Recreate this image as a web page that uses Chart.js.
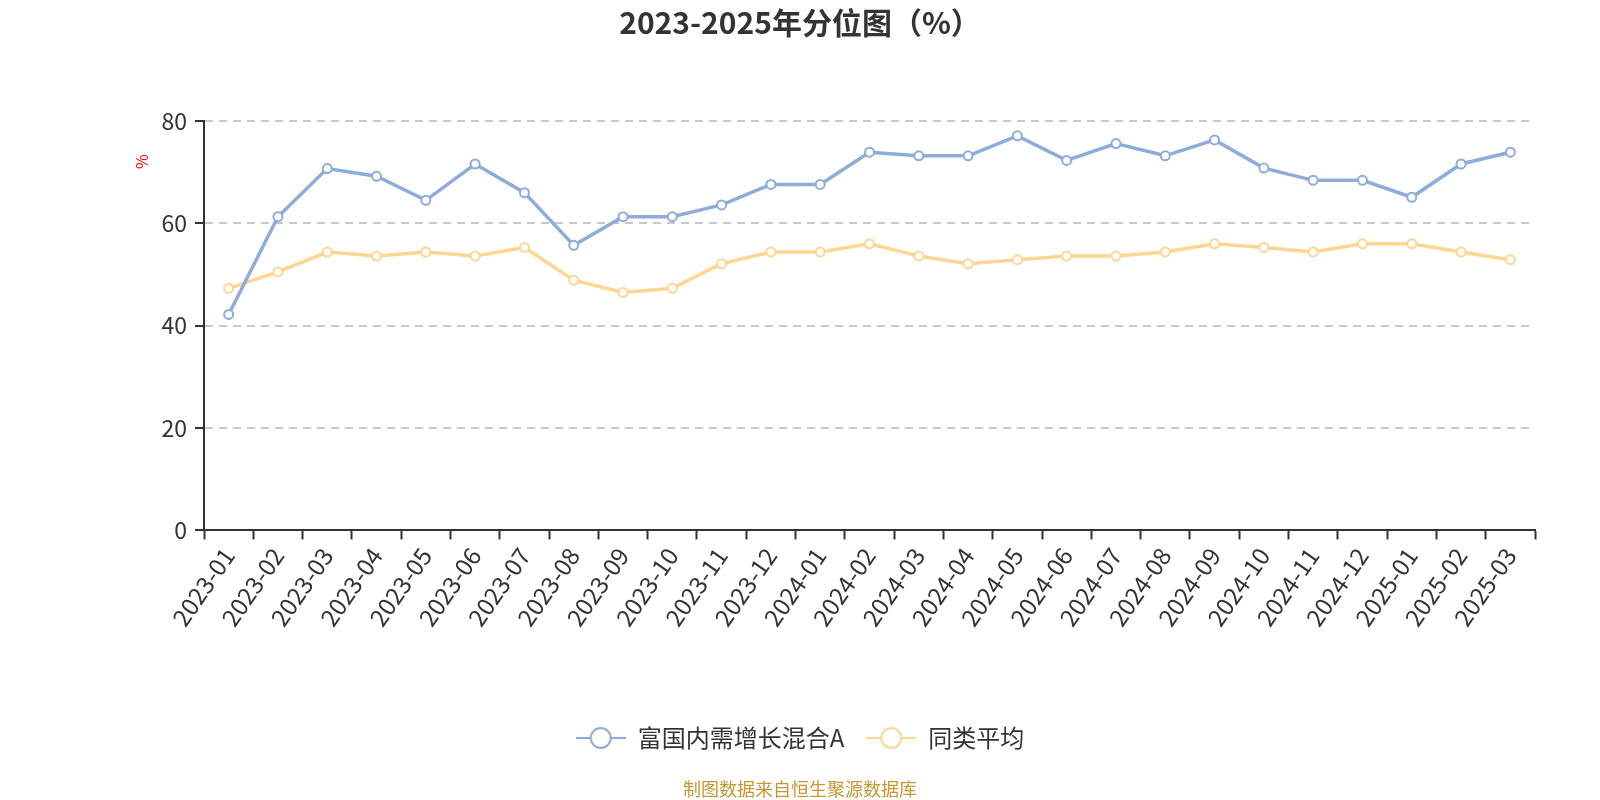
<!DOCTYPE html>
<html>
<head>
<meta charset="utf-8">
<script src="https://cdn.jsdelivr.net/npm/chart.js@4"></script>
<style>
html,body{margin:0;padding:0;background:#fff;}
#wrap{width:1600px;height:800px;position:relative;}
</style>
</head>
<body>
<div id="wrap"><canvas id="c" width="1600" height="800"></canvas></div>
<script>
const categories = ["2023-01","2023-02","2023-03","2023-04","2023-05","2023-06","2023-07","2023-08","2023-09","2023-10","2023-11","2023-12","2024-01","2024-02","2024-03","2024-04","2024-05","2024-06","2024-07","2024-08","2024-09","2024-10","2024-11","2024-12","2025-01","2025-02","2025-03"];
const fundValues = [42.2,61.3,70.7,69.2,64.5,71.6,66.0,55.7,61.3,61.3,63.6,67.6,67.6,73.9,73.2,73.2,77.1,72.3,75.6,73.2,76.3,70.8,68.4,68.4,65.1,71.6,73.9];
const avgValues = [47.3,50.5,54.4,53.6,54.4,53.6,55.3,48.9,46.5,47.3,52.1,54.4,54.4,56.0,53.6,52.1,52.9,53.6,53.6,54.4,56.0,55.3,54.4,56.0,56.0,54.4,52.9];
const yTicks = [0,20,40,60,80];
const seriesNames = ["富国内需增长混合A","同类平均"];
const titleText = "2023-2025年分位图（%）";
const footerText = "制图数据来自恒生聚源数据库";
const yUnit = "%";

const BLUE = "#8dabdb";
const ORANGE = "#ffd591";
const FONT = "'Noto Sans CJK SC', 'Noto Sans', sans-serif";

function legendIcon(color){
  const cv = document.createElement('canvas');
  cv.width = 50; cv.height = 24;
  const g = cv.getContext('2d');
  g.strokeStyle = color; g.lineWidth = 2;
  g.beginPath(); g.moveTo(0,12); g.lineTo(50,12); g.stroke();
  g.beginPath(); g.arc(25,12,10,0,Math.PI*2);
  g.fillStyle = "#fff"; g.fill(); g.stroke();
  return cv;
}

const extraText = {
  id: 'extraText',
  afterDraw(chart){
    const ctx = chart.ctx;
    ctx.save();
    ctx.fillStyle = "#c89632";
    ctx.font = "18px " + FONT;
    ctx.textAlign = "center"; ctx.textBaseline = "middle";
    ctx.fillText(footerText, 800, 789);
    ctx.translate(141.7, 161.7);
    ctx.rotate(-Math.PI/2);
    ctx.fillStyle = "#ff0000";
    ctx.font = "16px " + FONT;
    ctx.fillText(yUnit, 0, 0);
    ctx.restore();
  }
};

new Chart(document.getElementById('c'), {
  type: 'line',
  data: {
    labels: categories,
    datasets: [
      {label: seriesNames[0], data: fundValues, borderColor: BLUE, backgroundColor: BLUE,
       borderWidth: 3.5, pointRadius: 4.5, pointBorderWidth: 2, pointBackgroundColor: "#fff",
       pointBorderColor: BLUE, pointStyle: 'circle', tension: 0, fill: false},
      {label: seriesNames[1], data: avgValues, borderColor: ORANGE, backgroundColor: ORANGE,
       borderWidth: 3.5, pointRadius: 4.5, pointBorderWidth: 2, pointBackgroundColor: "#fff",
       pointBorderColor: ORANGE, pointStyle: 'circle', tension: 0, fill: false}
    ]
  },
  options: {
    responsive: false,
    animation: false,
    layout: {padding: {left: 65, right: 65, top: 0, bottom: 40}},
    plugins: {
      tooltip: {enabled: false},
      title: {display: true, text: titleText, color: "#333",
              font: {family: FONT, size: 30, weight: 'bold'},
              padding: {top: 5, bottom: 80}},
      legend: {
        position: 'bottom',
        labels: {
          usePointStyle: true, pointStyleWidth: 50, padding: 22,
          color: "#333", font: {family: FONT, size: 24},
          generateLabels(chart){
            return chart.data.datasets.map((d,i)=>({
              text: d.label, pointStyle: legendIcon(i===0?BLUE:ORANGE),
              fillStyle: '#fff', strokeStyle: d.borderColor, lineWidth: 0,
              fontColor: '#333', hidden: false, datasetIndex: i
            }));
          }
        }
      }
    },
    scales: {
      x: {
        type: 'category', offset: true,
        grid: {display: true, offset: true, drawOnChartArea: false, drawTicks: true,
               tickLength: 9, tickColor: "#333", tickWidth: 2},
        border: {display: true, color: "#333", width: 2},
        ticks: {autoSkip: false, minRotation: 55, maxRotation: 55, color: "#333",
                font: {family: FONT, size: 24}, padding: 3},
        afterFit(s){ s.height = 173.6; }
      },
      y: {
        min: 0, max: 80,
        afterBuildTicks(s){ s.ticks = yTicks.map(v=>({value:v})); },
        grid: {color: "#c8c8c8", lineWidth: 2, tickColor: "#333", tickLength: 9, tickWidth: 2,
               tickBorderDash: []},
        border: {display: true, color: "#333", width: 2, dash: [8,6]},
        ticks: {color: "#333", font: {family: FONT, size: 23}, padding: 8},
        afterFit(s){ s.width = 139; }
      }
    }
  },
  plugins: [extraText]
});
</script>
</body>
</html>
